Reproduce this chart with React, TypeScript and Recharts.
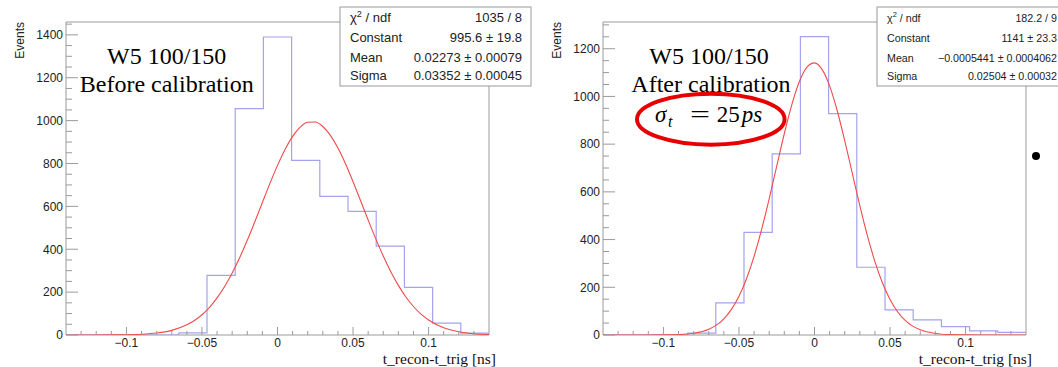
import React from 'react';
import { ComposedChart, Line, XAxis, YAxis, ReferenceArea } from 'recharts';

// 15 bins over [-0.14, 0.14]
const binEdges = [-0.14, -0.12133, -0.10267, -0.084, -0.06533, -0.04667, -0.028, -0.00933, 0.00933, 0.028, 0.04667, 0.06533, 0.084, 0.10267, 0.12133, 0.14];
const beforeCounts = [0, 0, 0, 0, 10, 278, 1056, 1390, 815, 647, 577, 415, 222, 55, 9];
const afterCounts = [0, 0, 0, 8, 135, 430, 759, 1251, 928, 284, 105, 63, 35, 17, 11];

// gaussian fit curves
const beforeFitX = [-0.14, -0.13, -0.12, -0.11, -0.1, -0.09, -0.08, -0.07, -0.06, -0.055, -0.05, -0.045, -0.04, -0.035, -0.03, -0.025, -0.02, -0.015, -0.01, -0.005, 0, 0.005, 0.01, 0.015, 0.02, 0.025, 0.03, 0.035, 0.04, 0.045, 0.05, 0.055, 0.06, 0.065, 0.07, 0.075, 0.08, 0.085, 0.09, 0.095, 0.1, 0.11, 0.12, 0.13, 0.14];
const beforeFitY = [0, 0.03, 0.1, 0.4, 1.2, 3.5, 9.1, 21.7, 47.4, 67.7, 94.6, 129.2, 172.9, 225.9, 289, 361.2, 441.9, 528.5, 618.2, 707.1, 791.1, 865.6, 926.3, 969.5, 992.3, 993.3, 972.5, 931.1, 871.9, 798.5, 715, 626.3, 536.5, 449.5, 368.4, 295.2, 231.4, 177.3, 132.9, 97.4, 69.9, 33.6, 14.8, 5.9, 2.2];
const afterFitX = [-0.14, -0.13, -0.12, -0.11, -0.1, -0.09, -0.08, -0.07, -0.065, -0.06, -0.055, -0.05, -0.045, -0.04, -0.035, -0.03, -0.025, -0.02, -0.015, -0.01, -0.005, 0, 0.005, 0.01, 0.015, 0.02, 0.025, 0.03, 0.035, 0.04, 0.045, 0.05, 0.055, 0.06, 0.065, 0.07, 0.08, 0.09, 0.1, 0.11, 0.12, 0.13, 0.14];
const afterFitY = [0, 0, 0, 0.05, 0.4, 1.9, 7.4, 24.4, 41.5, 68, 107.2, 162.3, 235.9, 329.6, 442.6, 571.1, 708.1, 843.6, 965.9, 1062.4, 1123.1, 1140.7, 1113.4, 1044.3, 941, 814.9, 678.1, 542.2, 416.6, 307.7, 218.2, 148.8, 97.5, 61.3, 37.1, 21.6, 6.5, 1.65, 0.36, 0.05, 0, 0, 0];

const xTickValues = [-0.1, -0.05, 0, 0.05, 0.1];
const xTickLabels = ['\u22120.1', '\u22120.05', '0', '0.05', '0.1'];

const beforeStats = [
  ['Constant', '995.6 \u00b1 19.8'],
  ['Mean', '0.02273 \u00b1 0.00079'],
  ['Sigma', '0.03352 \u00b1 0.00045'],
];
const afterStats = [
  ['Constant', '1141 \u00b1 23.3'],
  ['Mean', '\u22120.0005441 \u00b1 0.0004062'],
  ['Sigma', '0.02504 \u00b1 0.00032'],
];

const SANS = '"Liberation Sans", Arial, Helvetica, sans-serif';
const SERIF = '"Liberation Serif", "Times New Roman", serif';
const AXIS = '#9a9a9a';
const TEXT = '#222';
const HIST = '#a3a3ee';
const FIT = '#f04a4a';

const minorX = Array.from({ length: 27 }, (_, i) => (i - 13) / 100);

const XTick = (props: any) => {
  const { x, y, payload } = props;
  const idx = xTickValues.findIndex(v => Math.abs(v - payload.value) < 1e-6);
  const major = idx >= 0;
  return (
    <g>
      <line x1={x} x2={x} y1={y} y2={y - (major ? 8 : 4)} stroke={AXIS} />
      {major && (
        <text x={x} y={y + 12} textAnchor="middle" fontSize={12} fill={TEXT} fontFamily={SANS}>
          {xTickLabels[idx]}
        </text>
      )}
    </g>
  );
};

const YTick = (props: any) => {
  const { x, y, payload } = props;
  const major = payload.value % 200 === 0;
  return (
    <g>
      <line x1={x} x2={x + (major ? 12 : 6)} y1={y} y2={y} stroke={AXIS} />
      {major && (
        <text x={x - 3} y={y + 4.3} textAnchor="end" fontSize={12} fill={TEXT} fontFamily={SANS}>
          {payload.value}
        </text>
      )}
    </g>
  );
};

type PanelProps = {
  counts: number[];
  fitX: number[];
  fitY: number[];
  yMax: number;
};

const Panel: React.FC<PanelProps> = ({ counts, fitX, fitY, yMax }) => {
  const steps = binEdges.map((x, i) => ({ x, y: counts[Math.min(i, counts.length - 1)] }));
  const curve = fitX.map((x, i) => ({ x, y: fitY[i] }));
  const yTicks = Array.from({ length: Math.floor(yMax / 50) + 1 }, (_, i) => i * 50);

  return (
    <ComposedChart width={521} height={367} margin={{ top: 22, right: 32, bottom: 0, left: 0 }}>
      <XAxis
        dataKey="x"
        type="number"
        domain={[-0.14, 0.14]}
        allowDataOverflow
        ticks={minorX}
        interval={0}
        height={32}
        tickSize={0}
        tickMargin={0}
        tickLine={false}
        axisLine={false}
        tick={<XTick />}
      />
      <YAxis
        dataKey="y"
        type="number"
        domain={[0, yMax]}
        allowDataOverflow
        ticks={yTicks}
        interval={0}
        width={66}
        tickSize={0}
        tickMargin={0}
        tickLine={false}
        axisLine={false}
        tick={<YTick />}
      />
      <ReferenceArea x1={-0.14} x2={0.14} y1={0} y2={yMax} fill="none" fillOpacity={0} stroke={AXIS} strokeWidth={1} />
      <Line data={steps} dataKey="y" type="stepAfter" stroke={HIST} strokeWidth={1.2} dot={false} activeDot={false} isAnimationActive={false} />
      <Line data={curve} dataKey="y" type="monotone" stroke={FIT} strokeWidth={1.1} dot={false} activeDot={false} isAnimationActive={false} />
    </ComposedChart>
  );
};

const StatsBox: React.FC<{ x: number; w: number; labelX: number; valueX: number; size: number; chi: string; rows: string[][] }> = ({ x, w, labelX, valueX, size, chi, rows }) => {
  const rowY = [21.8, 42, 61.6, 80.3];
  return (
    <g fontFamily={SANS} fontSize={size} fill={TEXT}>
      <rect x={x} y={7} width={w} height={79} fill="#fff" stroke={AXIS} />
      <text x={labelX} y={rowY[0]}>
        {'\u03c7'}
        <tspan fontSize={size * 0.7} dy={-5}>2</tspan>
        <tspan dy={5}>{' / ndf'}</tspan>
      </text>
      <text x={valueX} y={rowY[0]} textAnchor="end">{chi}</text>
      {rows.map((r, i) => (
        <g key={r[0]}>
          <text x={labelX} y={rowY[i + 1]}>{r[0]}</text>
          <text x={valueX} y={rowY[i + 1]} textAnchor="end">{r[1]}</text>
        </g>
      ))}
    </g>
  );
};

const Overlay: React.FC = () => (
  <svg width={1058} height={367} style={{ position: 'absolute', left: 0, top: 0, pointerEvents: 'none' }}>
    {/* axis titles */}
    <text transform="translate(24.3,22) rotate(-90)" textAnchor="end" fontFamily={SANS} fontSize={12} fill={TEXT}>Events</text>
    <text transform="translate(561,22) rotate(-90)" textAnchor="end" fontFamily={SANS} fontSize={12} fill={TEXT}>Events</text>
    <text x={496} y={363.5} textAnchor="end" fontFamily={SERIF} fontSize={15.5} fill="#111">t_recon-t_trig [ns]</text>
    <text x={1032} y={363.5} textAnchor="end" fontFamily={SERIF} fontSize={15.5} fill="#111">t_recon-t_trig [ns]</text>

    {/* stats boxes */}
    <StatsBox x={340} w={191} labelX={350} valueX={522} size={13} chi="1035 / 8" rows={beforeStats} />
    <StatsBox x={877} w={200} labelX={887} valueX={1057} size={10.7} chi="182.2 / 9" rows={afterStats} />

    {/* annotations */}
    <g fontFamily={SERIF} fontSize={24} fill="#000" textAnchor="middle">
      <text x={166.7} y={64}>W5 100/150</text>
      <text x={166.7} y={92}>Before calibration</text>
      <text x={709} y={64.3}>W5 100/150</text>
      <text x={711} y={91.7}>After calibration</text>
    </g>
    <text fontFamily={SERIF} fontSize={23} fill="#000" y={121.7}>
      <tspan x={655} fontStyle="italic">{'\u03c3'}</tspan>
      <tspan x={668} dy={5} fontSize={16} fontStyle="italic">t</tspan>
      <tspan x={690} dy={-5} textLength={20} lengthAdjust="spacingAndGlyphs">=</tspan>
      <tspan x={716.7}>25</tspan>
      <tspan x={741.7} fontStyle="italic">ps</tspan>
    </text>
    <ellipse cx={710.8} cy={119.2} rx={73.8} ry={25.5} fill="none" stroke="#e60000" strokeWidth={4} />
    <circle cx={1036} cy={156} r={4} fill="#000" />
  </svg>
);

const App: React.FC = () => {
  return (
    <div style={{ position: 'fixed', left: 0, top: 0, width: 1058, height: 367, background: '#fff', overflow: 'hidden' }}>
      <div style={{ position: 'absolute', left: 0, top: 0 }}>
        <Panel counts={beforeCounts} fitX={beforeFitX} fitY={beforeFitY} yMax={1460} />
      </div>
      <div style={{ position: 'absolute', left: 537, top: 0 }}>
        <Panel counts={afterCounts} fitX={afterFitX} fitY={afterFitY} yMax={1312} />
      </div>
      <Overlay />
    </div>
  );
};

export default App;
